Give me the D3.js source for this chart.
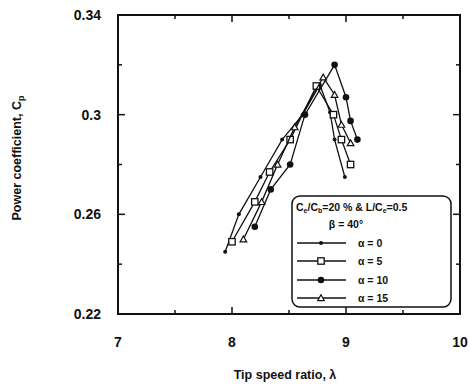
<!DOCTYPE html>
<html>
<head>
<meta charset="utf-8">
<script src="https://cdn.jsdelivr.net/npm/d3@7"></script>
<style>
  body { margin: 0; background: #fff; }
  svg { display: block; font-family: 'Liberation Sans', Arial, sans-serif; }
  .tick-label { font-size: 14px; font-weight: bold; fill: #111; }
  .axis-title { font-size: 12.5px; font-weight: bold; fill: #111; }
  .legend-text { font-size: 10.5px; font-weight: bold; fill: #111; }
</style>
</head>
<body>
<svg id="chart" width="470" height="391"></svg>
<script>
// Tip speed ratio (lambda) and power coefficient (Cp) per blade angle alpha
const alpha0X = [7.94, 8.06, 8.25, 8.44, 8.62, 8.77, 8.86, 8.90, 8.99];
const alpha0Y = [0.245, 0.260, 0.275, 0.290, 0.300, 0.312, 0.301, 0.290, 0.275];
const alpha5X = [8.00, 8.20, 8.33, 8.51, 8.74, 8.89, 8.96, 9.04];
const alpha5Y = [0.249, 0.265, 0.277, 0.290, 0.3115, 0.300, 0.290, 0.280];
const alpha10X = [8.20, 8.34, 8.51, 8.64, 8.90, 9.00, 9.04, 9.10];
const alpha10Y = [0.255, 0.270, 0.280, 0.300, 0.320, 0.307, 0.2975, 0.290];
const alpha15X = [8.10, 8.26, 8.40, 8.55, 8.80, 8.90, 8.96, 9.04];
const alpha15Y = [0.250, 0.265, 0.280, 0.295, 0.315, 0.308, 0.296, 0.2886];

const xTicks = [7, 8, 9, 10];
const xMinorTicks = [7.5, 8.5, 9.5];
const yTicks = [0.22, 0.26, 0.3, 0.34];
const yMinorTicks = [0.24, 0.28, 0.32];
const legendLabels = ['\u03b1 = 0', '\u03b1 = 5', '\u03b1 = 10', '\u03b1 = 15'];

const series = [
    { x: alpha0X, y: alpha0Y, marker: 'smalldot', label: legendLabels[0] },
    { x: alpha5X, y: alpha5Y, marker: 'square', label: legendLabels[1] },
    { x: alpha10X, y: alpha10Y, marker: 'bigdot', label: legendLabels[2] },
    { x: alpha15X, y: alpha15Y, marker: 'triangle', label: legendLabels[3] }
];

const svg = d3.select('#chart');
const plotLeft = 118, plotRight = 460, plotTop = 15, plotBottom = 314;

const x = d3.scaleLinear().domain([7, 10]).range([plotLeft, plotRight]);
const y = d3.scaleLinear().domain([0.22, 0.34]).range([plotBottom, plotTop]);

// Frame
svg.append('rect')
    .attr('x', plotLeft).attr('y', plotTop)
    .attr('width', plotRight - plotLeft).attr('height', plotBottom - plotTop)
    .attr('fill', 'none').attr('stroke', '#111').attr('stroke-width', 2);

// Inward ticks on all four sides
const tickG = svg.append('g').attr('stroke', '#111').attr('stroke-width', 1.5);
function xTick(v, len) {
    tickG.append('line').attr('x1', x(v)).attr('x2', x(v)).attr('y1', plotBottom).attr('y2', plotBottom - len);
    tickG.append('line').attr('x1', x(v)).attr('x2', x(v)).attr('y1', plotTop).attr('y2', plotTop + len);
}
function yTick(v, len) {
    tickG.append('line').attr('y1', y(v)).attr('y2', y(v)).attr('x1', plotLeft).attr('x2', plotLeft + len);
    tickG.append('line').attr('y1', y(v)).attr('y2', y(v)).attr('x1', plotRight).attr('x2', plotRight - len);
}
xTicks.slice(1, -1).forEach(v => xTick(v, 7));
xMinorTicks.forEach(v => xTick(v, 4));
yTicks.slice(1, -1).forEach(v => yTick(v, 7));
yMinorTicks.forEach(v => yTick(v, 4));

// Tick labels
svg.selectAll('.xl').data(xTicks).enter().append('text')
    .attr('class', 'tick-label')
    .attr('x', d => x(d)).attr('y', 347)
    .attr('text-anchor', 'middle')
    .text(d => d);

svg.selectAll('.yl').data(yTicks).enter().append('text')
    .attr('class', 'tick-label')
    .attr('x', 101).attr('y', d => y(d) + 5)
    .attr('text-anchor', 'end')
    .text(d => d3.format('.2~f')(d));

// Axis titles
svg.append('text').attr('class', 'axis-title')
    .attr('x', 285).attr('y', 379)
    .attr('text-anchor', 'middle')
    .text('Tip speed ratio, \u03bb');

const yt = svg.append('text').attr('class', 'axis-title')
    .attr('transform', 'translate(21,158) rotate(-90)')
    .attr('text-anchor', 'middle');
yt.append('tspan').text('Power coefficient, C');
yt.append('tspan').attr('font-size', '9px').attr('dy', 3).text('p');

// Markers
function drawMarker(g, type, cx, cy) {
    if (type === 'smalldot') {
        g.append('circle').attr('cx', cx).attr('cy', cy).attr('r', 2).attr('fill', '#111');
    } else if (type === 'bigdot') {
        g.append('circle').attr('cx', cx).attr('cy', cy).attr('r', 3.3).attr('fill', '#111');
    } else if (type === 'square') {
        g.append('rect').attr('x', cx - 3.2).attr('y', cy - 3.2).attr('width', 6.4).attr('height', 6.4)
            .attr('fill', '#fff').attr('stroke', '#111').attr('stroke-width', 1.3);
    } else if (type === 'triangle') {
        g.append('path')
            .attr('d', `M${cx},${cy - 3.2}L${cx + 3.3},${cy + 2.6}L${cx - 3.3},${cy + 2.6}Z`)
            .attr('fill', '#fff').attr('stroke', '#111').attr('stroke-width', 1.2);
    }
}

const line = d3.line().x(d => x(d[0])).y(d => y(d[1]));

series.forEach(s => {
    const pts = s.x.map((v, i) => [v, s.y[i]]);
    svg.append('path')
        .attr('d', line(pts))
        .attr('fill', 'none')
        .attr('stroke', '#111')
        .attr('stroke-width', 1.3);
    const g = svg.append('g');
    pts.forEach(p => drawMarker(g, s.marker, x(p[0]), y(p[1])));
});

// Legend
const lg = svg.append('g');
lg.append('rect')
    .attr('x', 292).attr('y', 196).attr('width', 159).attr('height', 111)
    .attr('rx', 8).attr('ry', 8)
    .attr('fill', '#fff').attr('stroke', '#111').attr('stroke-width', 1.5);

const head = lg.append('text').attr('class', 'legend-text').attr('x', 296).attr('y', 211);
head.append('tspan').text('C');
head.append('tspan').attr('font-size', '7px').attr('dy', 2).text('e');
head.append('tspan').attr('dy', -2).text('/C');
head.append('tspan').attr('font-size', '7px').attr('dy', 2).text('b');
head.append('tspan').attr('dy', -2).text('=20 % & L/C');
head.append('tspan').attr('font-size', '7px').attr('dy', 2).text('e');
head.append('tspan').attr('dy', -2).text('=0.5');

lg.append('text').attr('class', 'legend-text')
    .attr('x', 346).attr('y', 228).attr('text-anchor', 'middle')
    .text('\u03b2 = 40\u00b0');

const rowY = [243, 261, 280, 298];
series.forEach((s, i) => {
    const ry = rowY[i];
    lg.append('line')
        .attr('x1', 297).attr('x2', 346).attr('y1', ry).attr('y2', ry)
        .attr('stroke', '#111').attr('stroke-width', 1.3);
    drawMarker(lg, s.marker, 321, ry);
    lg.append('text').attr('class', 'legend-text')
        .attr('x', 358).attr('y', ry + 4)
        .text(s.label);
});
</script>
</body>
</html>
